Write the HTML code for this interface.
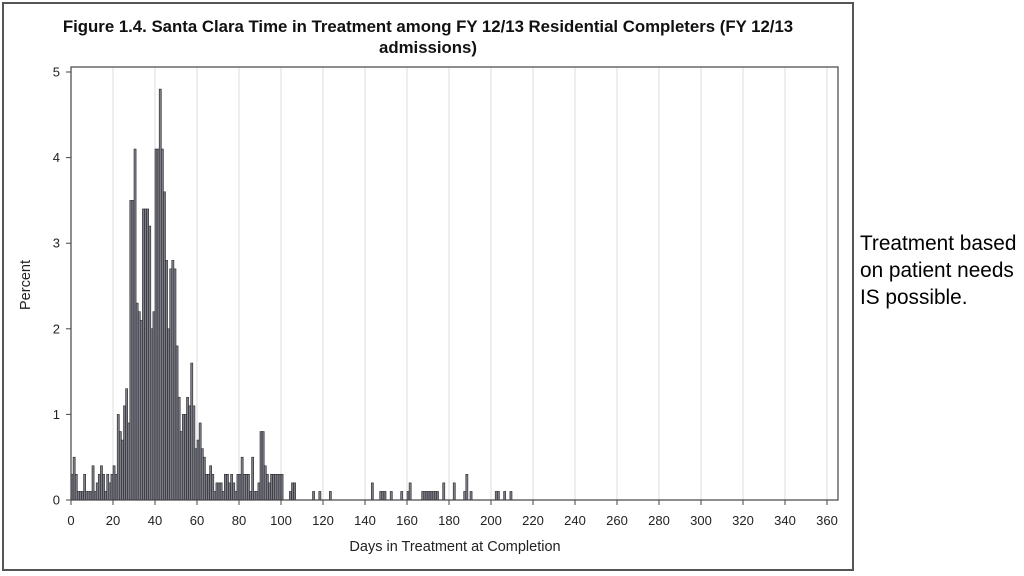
<!DOCTYPE html>
<html><head><meta charset="utf-8"><style>
html,body{margin:0;padding:0;background:#fff;width:1024px;height:576px;overflow:hidden;font-family:"Liberation Sans",sans-serif}
#side{position:absolute;left:860px;top:230px;font-size:20.8px;line-height:27px;color:#000}
</style></head><body>
<svg id="chart" width="1024" height="576" style="position:absolute;left:0;top:0" font-family="Liberation Sans, sans-serif">
<rect x="3" y="3" width="850" height="567" fill="none" stroke="#555" stroke-width="2"/>
<text x="428" y="32" text-anchor="middle" font-size="16.8" font-weight="bold" fill="#111">Figure 1.4. Santa Clara Time in Treatment among FY 12/13 Residential Completers (FY 12/13</text>
<text x="428" y="53" text-anchor="middle" font-size="16.8" font-weight="bold" fill="#111">admissions)</text>
<g id="grid"></g><g id="bars"></g><g id="axes"></g>
<rect x="71" y="67" width="767" height="433" fill="none" stroke="#444" stroke-width="1.2"/>
<text x="455" y="551" text-anchor="middle" font-size="14.5" fill="#222">Days in Treatment at Completion</text>
<text transform="translate(30,285) rotate(-90)" text-anchor="middle" font-size="14.5" fill="#222">Percent</text>
</svg>
<div id="side">Treatment based<br>on patient needs<br>IS possible.</div>
<script>
const denseValues = [.3,.5,.3,.1,.1,.1,.3,.1,.1,.1,.4,.1,.2,.3,.4,.3,.1,.3,.2,.3,.4,.3,1.0,.8,.7,1.1,1.3,.9,3.5,3.5,4.1,2.3,2.2,2.1,3.4,3.4,3.4,3.2,2.0,2.2,4.1,4.1,4.8,4.1,3.6,2.8,2.0,2.7,2.8,2.7,1.8,1.2,.8,1.0,1.0,1.2,1.1,1.6,1.1,.6,.7,.9,.6,.5,.3,.3,.4,.3,.1,.2,.2,.2,.1,.3,.3,.2,.3,.2,.1,.3,.3,.5,.3,.3,.3,.1,.5,.1,.1,.2,.8,.8,.4,.3,.2,.3,.3,.3,.3,.3,.3];
const tailDays = [104,105,106,115,118,123,143,147,148,149,152,157,160,161,167,168,169,170,171,172,173,174,177,182,187,188,190,202,203,206,209];
const tailValues = [.1,.2,.2,.1,.1,.1,.2,.1,.1,.1,.1,.1,.1,.2,.1,.1,.1,.1,.1,.1,.1,.1,.2,.2,.1,.3,.1,.1,.1,.1,.1];
const xTicks = [0,20,40,60,80,100,120,140,160,180,200,220,240,260,280,300,320,340,360];
const yTicks = [0,1,2,3,4,5];
const NS='http://www.w3.org/2000/svg';
const X0=71,X1=827,Y0=500,Y1=72;
const xs=d=>X0+d*(X1-X0)/360;
const ys=v=>Y0-v*(Y0-Y1)/5;
function mk(t,a,p){const e=document.createElementNS(NS,t);for(const k in a)e.setAttribute(k,a[k]);p.appendChild(e);return e;}
const grid=document.getElementById('grid'),bars=document.getElementById('bars'),axes=document.getElementById('axes');
xTicks.forEach(t=>{
  if(t>0){const g=mk('line',{x1:xs(t),x2:xs(t),y1:67,y2:500,stroke:'#ddd','stroke-width':1},grid);
  
  }
  const tk=mk('line',{x1:xs(t),x2:xs(t),y1:500,y2:505,stroke:'#444'},axes);
  
  
  const l=mk('text',{x:xs(t),y:525,'text-anchor':'middle','font-size':13,fill:'#222'},axes);l.textContent=t;
  
  
});
yTicks.forEach(t=>{
  const tk=mk('line',{x1:66,x2:71,y1:ys(t),y2:ys(t),stroke:'#444'},axes);
  
  
  const l=mk('text',{x:60,y:ys(t)+4.5,'text-anchor':'end','font-size':13,fill:'#222'},axes);l.textContent=t;
  
  
});
const bw=(X1-X0)/360;
function bar(d,v){
  const r=mk('rect',{x:xs(d),y:ys(v),width:bw,height:Y0-ys(v),fill:'#7b7c88',stroke:'#2a2a2a','stroke-width':0.6},bars);
  
  
}
denseValues.forEach((v,d)=>{if(v>0)bar(d,v);});
tailDays.forEach((d,i)=>bar(d,tailValues[i]));
</script>
</body></html>
